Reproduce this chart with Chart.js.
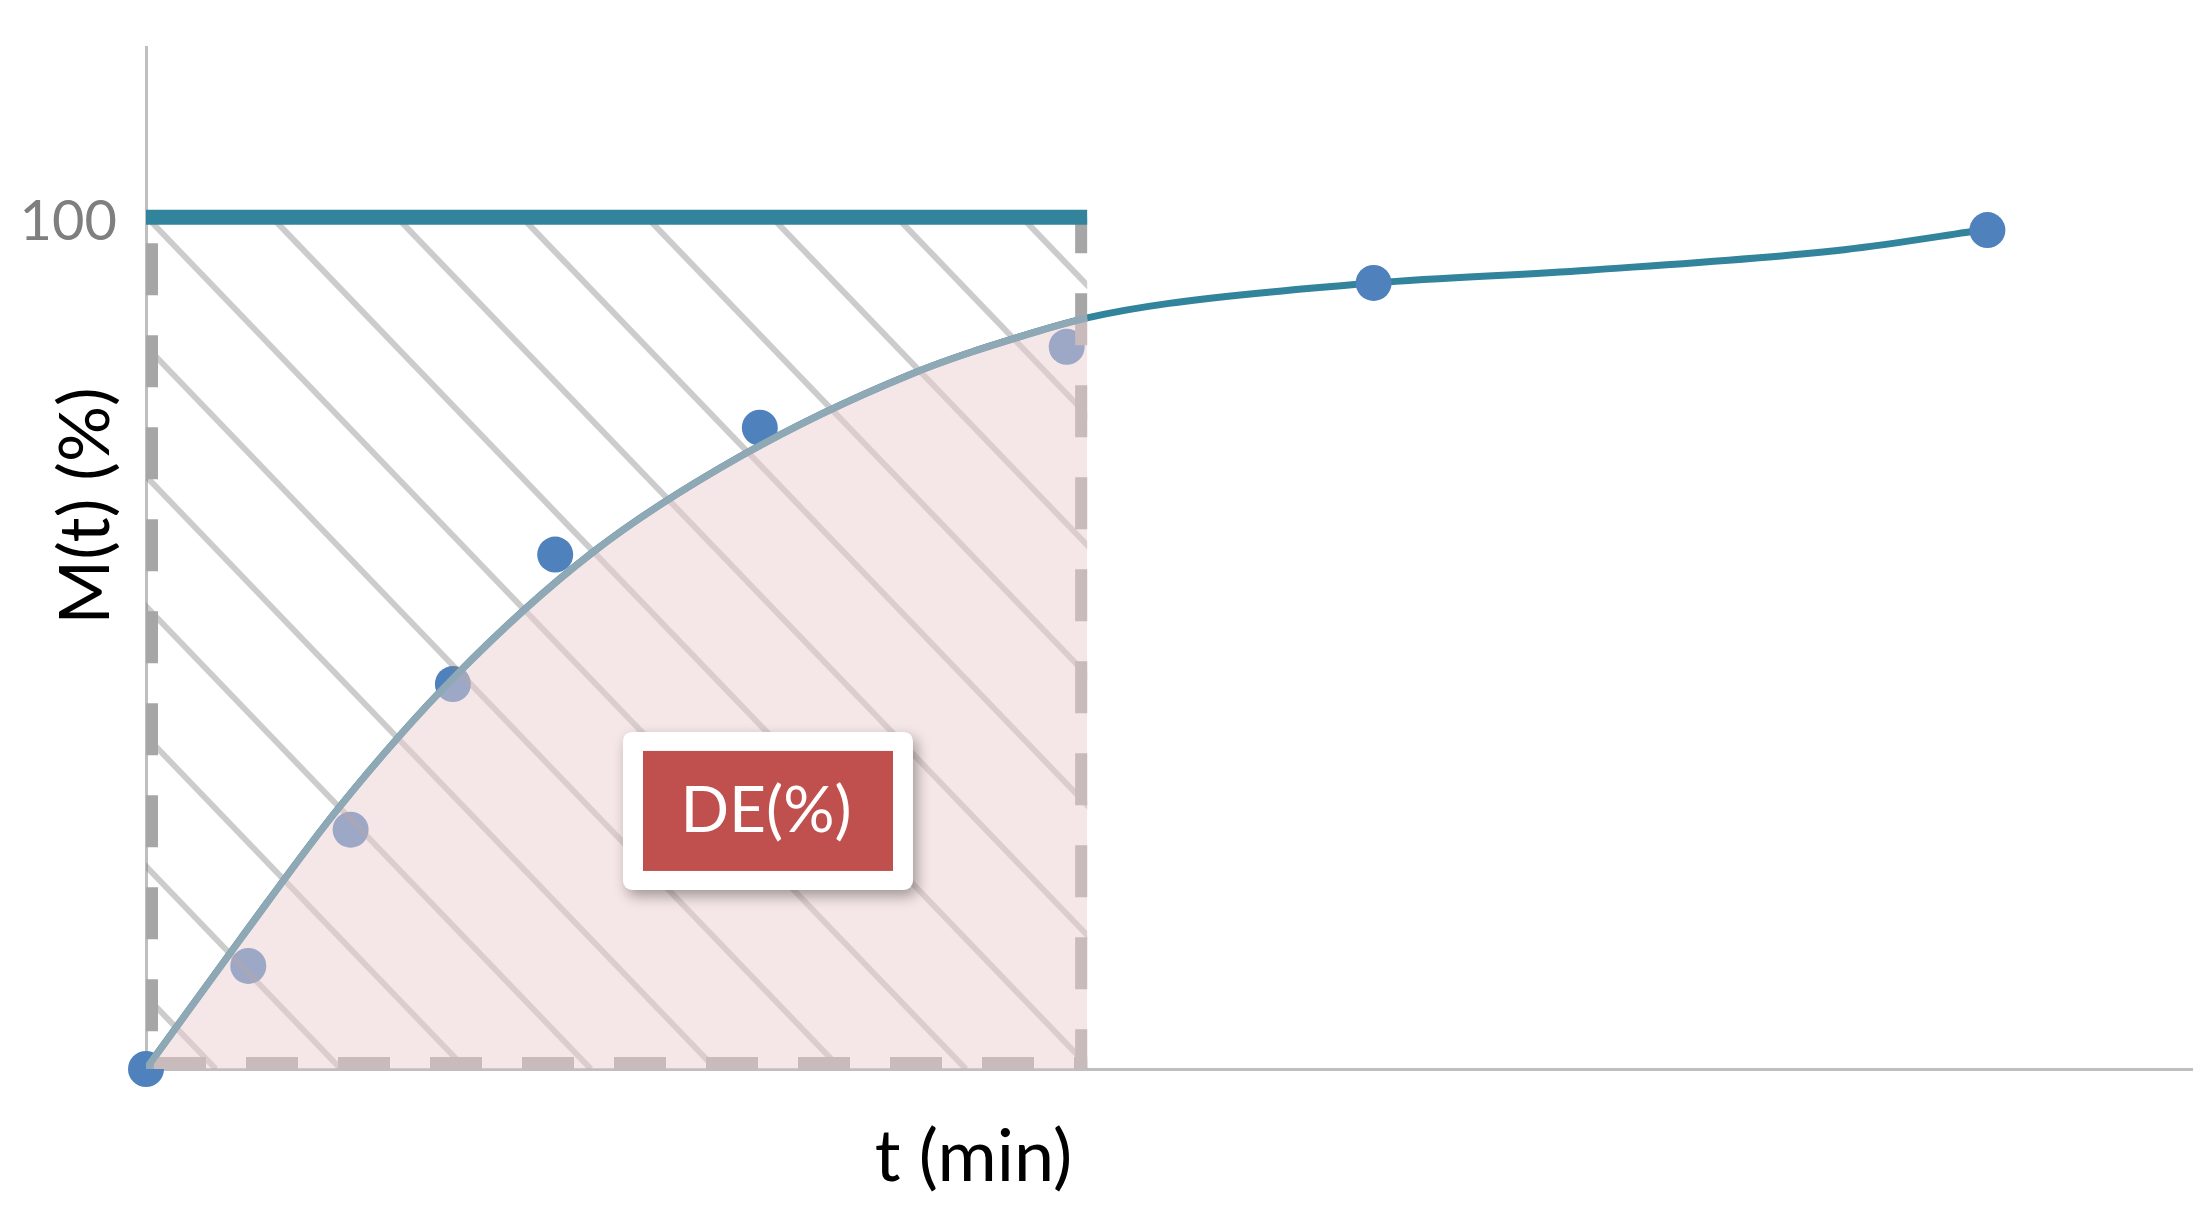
<!DOCTYPE html>
<html>
<head>
<meta charset="utf-8">
<title>DE(%)</title>
<script src="https://cdn.jsdelivr.net/npm/chart.js@4.4.1/dist/chart.umd.min.js"></script>
<style>
    body { margin: 0; background: #ffffff; }
    #wrap { width: 2211px; height: 1210px; }
</style>
</head>
<body>
<div id="wrap"><canvas id="deChart"></canvas></div>
<script>
// measured release points
const pointTimes = [0, 5, 10, 15, 20, 30, 45, 60, 90];
const pointValues = [0, 12.1, 28.1, 45.2, 60.4, 75.3, 84.8, 92.3, 98.5];

// fitted curve
const fitTimes = [0, 4.6, 9.5, 15.1, 21.8, 29.1, 37.3, 43.7, 46, 50, 60, 70.5, 83, 90];
const fitValues = [0, 15.2, 30.9, 46.1, 60.6, 72.0, 81.5, 86.7, 88.2, 89.9, 92.3, 93.8, 96.2, 98.6];

// dissolution efficiency window
const boxEnd = 46;
const topValue = 100;
const yTicks = [100];
const labelText = 'DE(%)';
const labelT = 30.4;
const labelV = 30.3;
const xTitle = 't (min)';
const yTitle = 'M(t) (%)';

const teal = '#31849B';
const fontName = 'Lato, "Open Sans", sans-serif';

function toXY(xs, ys) {
    return xs.map((x, i) => ({ x: x, y: ys[i] }));
}

// area under the curve inside the window
const areaTimes = fitTimes.filter(t => t <= boxEnd);
const areaValues = fitValues.slice(0, areaTimes.length);

const boxPlugin = {
    id: 'boxPlugin',
    afterDatasetDraw(chart, args) {
        if (args.index !== 1) return;
        const ctx = chart.ctx;
        const xs = chart.scales.x;
        const ys = chart.scales.y;
        const left = xs.getPixelForValue(0);
        const right = xs.getPixelForValue(boxEnd);
        const top = ys.getPixelForValue(topValue);
        const bottom = ys.getPixelForValue(0);

        // hatch
        ctx.save();
        ctx.beginPath();
        ctx.rect(left, top, right - left, bottom - top);
        ctx.clip();
        ctx.strokeStyle = 'rgba(128,128,128,0.4)';
        ctx.lineWidth = 6;
        const slope = 1.04;
        const h = bottom - top;
        for (let x0 = left + 1 - 1250; x0 < right + 10; x0 += 125) {
            ctx.beginPath();
            ctx.moveTo(x0, top);
            ctx.lineTo(x0 + h / slope, bottom);
            ctx.stroke();
        }
        ctx.restore();

        // dashed outline, stroked inside the window
        ctx.save();
        ctx.strokeStyle = '#A6A6A6';
        ctx.lineWidth = 12;
        ctx.setLineDash([52, 40]);
        ctx.lineDashOffset = 66;
        ctx.beginPath();
        ctx.moveTo(left + 6, top);
        ctx.lineTo(left + 6, bottom - 6);
        ctx.stroke();
        ctx.lineDashOffset = 84;
        ctx.beginPath();
        ctx.moveTo(left, bottom - 6);
        ctx.lineTo(right, bottom - 6);
        ctx.stroke();
        ctx.lineDashOffset = 16;
        ctx.beginPath();
        ctx.moveTo(right - 6, top);
        ctx.lineTo(right - 6, bottom);
        ctx.stroke();
        ctx.restore();
    },
    afterDraw(chart) {
        const ctx = chart.ctx;
        const xs = chart.scales.x;
        const ys = chart.scales.y;

        // DE(%) label
        const cx = xs.getPixelForValue(labelT);
        const cy = ys.getPixelForValue(labelV);
        ctx.save();
        ctx.shadowColor = 'rgba(0,0,0,0.35)';
        ctx.shadowBlur = 14;
        ctx.shadowOffsetX = 4;
        ctx.shadowOffsetY = 6;
        ctx.fillStyle = '#ffffff';
        ctx.beginPath();
        ctx.roundRect(cx - 145, cy - 79, 290, 158, 9);
        ctx.fill();
        ctx.restore();
        ctx.save();
        ctx.fillStyle = '#C0504D';
        ctx.fillRect(cx - 125, cy - 60, 250, 120);
        ctx.fillStyle = '#ffffff';
        ctx.font = '64px ' + fontName;
        ctx.textAlign = 'center';
        ctx.textBaseline = 'middle';
        ctx.fillText(labelText, cx - 2, cy);
        ctx.restore();

        // axis titles
        ctx.save();
        ctx.fillStyle = '#000000';
        ctx.font = '72px ' + fontName;
        ctx.textAlign = 'right';
        ctx.textBaseline = 'middle';
        ctx.fillText(xTitle, xs.getPixelForValue(boxEnd) - 15, 1158);
        ctx.font = '70px ' + fontName;
        ctx.translate(86, 506);
        ctx.rotate(-Math.PI / 2);
        ctx.textAlign = 'center';
        ctx.fillText(yTitle, 0, 0);
        ctx.restore();
    }
};

const ctx = document.getElementById('deChart').getContext('2d');
const deChart = new Chart(ctx, {
    type: 'scatter',
    data: {
        datasets: [
            {
                label: 'fit',
                data: toXY(fitTimes, fitValues),
                showLine: true,
                borderColor: teal,
                borderWidth: 7,
                pointRadius: 0,
                cubicInterpolationMode: 'monotone',
                order: 4
            },
            {
                label: 'points',
                data: toXY(pointTimes, pointValues),
                backgroundColor: '#4F81BD',
                borderWidth: 0,
                pointRadius: 18,
                clip: false,
                order: 3
            },
            {
                label: '100%',
                data: toXY([0, boxEnd], [topValue, topValue]),
                showLine: true,
                borderColor: teal,
                borderWidth: 15,
                pointRadius: 0,
                order: 2
            },
            {
                label: 'area',
                data: toXY(areaTimes, areaValues),
                showLine: true,
                fill: 'origin',
                backgroundColor: 'rgba(235,205,207,0.5)',
                borderColor: '#8EA9B5',
                borderWidth: 7,
                pointRadius: 0,
                cubicInterpolationMode: 'monotone',
                order: 1
            }
        ]
    },
    options: {
        responsive: true,
        maintainAspectRatio: false,
        animation: false,
        events: [],
        layout: { padding: { top: 47, right: 19, left: 0, bottom: 0 } },
        plugins: {
            legend: { display: false },
            tooltip: { enabled: false }
        },
        scales: {
            x: {
                type: 'linear',
                min: 0,
                max: 100,
                grid: { display: false, drawTicks: false },
                border: { display: true, color: '#BFBFBF', width: 3 },
                ticks: { display: false },
                afterFit: s => {
                    s.height = 141;
                    s.paddingLeft = 0;
                    s.paddingRight = 0;
                }
            },
            y: {
                type: 'linear',
                min: 0,
                max: 120,
                grid: { display: false, drawTicks: false },
                border: { display: true, color: '#BFBFBF', width: 3 },
                afterBuildTicks: s => { s.ticks = yTicks.map(v => ({ value: v })); },
                ticks: {
                    color: '#7F7F7F',
                    padding: 29,
                    labelOffset: 5,
                    font: { family: fontName, size: 56 }
                },
                afterFit: s => {
                    s.width = 146;
                    s.paddingTop = 0;
                    s.paddingBottom = 0;
                }
            }
        }
    },
    plugins: [boxPlugin]
});
</script>
</body>
</html>
